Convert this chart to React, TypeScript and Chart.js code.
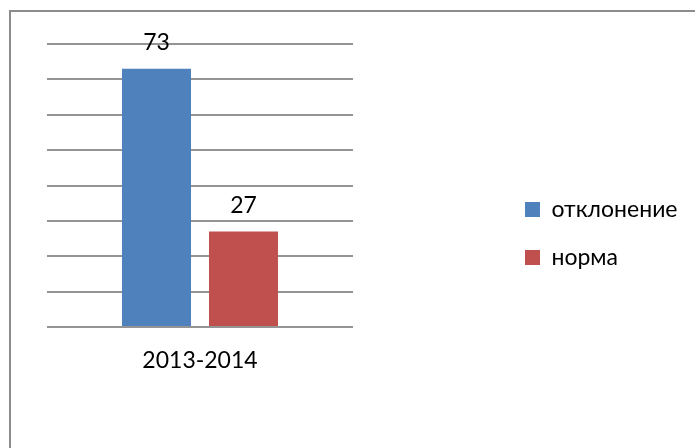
import React, { useEffect, useRef } from "react";
import { Chart, registerables } from "chart.js";

Chart.register(...registerables);

const categories = ["2013-2014"];
const seriesNames = ["отклонение", "норма"];
const deviationValues = [73];
const normValues = [27];
const seriesColors = ["#4F81BD", "#C0504D"];
const yMin = 0;
const yMax = 80;
const yStep = 10;

const FONT = "Lato, 'Open Sans', 'Noto Sans', sans-serif";
const FONT_SIZE = 23;

const valueLabels = {
  id: "valueLabels",
  afterDatasetsDraw(chart: any) {
    const ctx = chart.ctx;
    chart.data.datasets.forEach((ds: any, i: number) => {
      const meta = chart.getDatasetMeta(i);
      meta.data.forEach((el: any, j: number) => {
        ctx.save();
        ctx.font = `${FONT_SIZE}px ${FONT}`;
        ctx.fillStyle = "#000";
        ctx.textAlign = "center";
        ctx.textBaseline = "middle";
        ctx.fillText(String(ds.data[j]), el.x, el.y - 26);
        ctx.restore();
      });
    });
  },
};

const legendPlace = {
  id: "legendPlace",
  afterLayout(chart: any) {
    const lg = chart.legend;
    if (!lg) return;
    const w = lg.width;
    const h = lg.height;
    lg.left = 500;
    lg.top = 173;
    lg.right = 500 + w;
    lg.bottom = 173 + h;
  },
};

export default function App() {
  const ref = useRef<HTMLCanvasElement | null>(null);

  useEffect(() => {
    if (!ref.current) return;
    const chart = new Chart(ref.current, {
      type: "bar",
      data: {
        labels: categories,
        datasets: [
          {
            label: seriesNames[0],
            data: deviationValues,
            backgroundColor: seriesColors[0],
            borderWidth: 0,
          },
          {
            label: seriesNames[1],
            data: normValues,
            backgroundColor: seriesColors[1],
            borderWidth: 0,
          },
        ],
      },
      options: {
        animation: false,
        responsive: false,
        maintainAspectRatio: false,
        devicePixelRatio: 1,
        layout: { padding: { left: 47, right: 342, top: 44, bottom: 61 } },
        datasets: {
          bar: { categoryPercentage: 0.5686, barPercentage: 0.793 },
        },
        scales: {
          x: {
            grid: { display: false, drawTicks: false },
            border: { display: false },
            ticks: {
              color: "#000",
              font: { family: FONT, size: FONT_SIZE },
              padding: 20,
            },
            afterFit: (s: any) => {
              s.height = 60;
            },
          },
          y: {
            min: yMin,
            max: yMax,
            ticks: { display: false, stepSize: yStep },
            grid: { color: "#949494", drawTicks: false, lineWidth: 2 },
            border: { display: false },
            afterFit: (s: any) => {
              s.width = 0;
            },
          },
        },
        plugins: {
          tooltip: { enabled: false },
          legend: {
            position: "chartArea" as any,
            align: "start",
            labels: {
              color: "#000",
              font: { family: FONT, size: FONT_SIZE },
              boxWidth: 15,
              boxHeight: 15,
              padding: 25,
            },
          },
        },
      },
      plugins: [valueLabels, legendPlace],
    });
    return () => chart.destroy();
  }, []);

  return (
    <div style={{ position: "fixed", left: 0, top: 0, width: 695, height: 448, background: "#fff", overflow: "hidden" }}>
      <div
        style={{
          position: "absolute",
          left: 9,
          top: 10,
          width: 720,
          height: 460,
          borderTop: "2px solid #8c8c8c",
          borderLeft: "2px solid #8c8c8c",
        }}
      />
      <canvas ref={ref} width={695} height={448} style={{ position: "absolute", left: 0, top: 0 }} />
    </div>
  );
}
